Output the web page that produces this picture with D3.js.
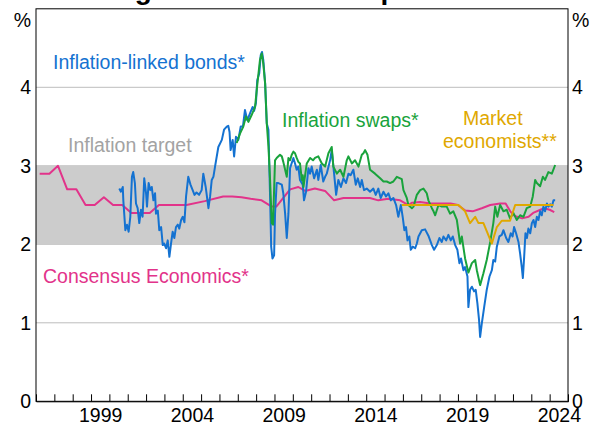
<!DOCTYPE html>
<html>
<head>
<meta charset="utf-8">
<script src="https://cdn.jsdelivr.net/npm/d3@7"></script>
<style>
  body { margin: 0; background: #fff; }
  svg { display: block; }
  text { font-family: "Liberation Sans", Arial, sans-serif; }
</style>
</head>
<body>
<svg id="chart" width="596" height="430"></svg>
<script>
// Long-term inflation expectations, per cent (decimal year, value)
const title = "Long-term Inflation Expectations";
const yearLabels = [1999, 2004, 2009, 2014, 2019, 2024];
const valueTicks = [0, 1, 2, 3, 4];
const targetBand = [2, 3];

const bonds = [
  [2000.54,2.71],[2000.63,2.67],[2000.73,2.73],[2000.76,2.56],[2000.87,2.18],[2000.96,2.25],
  [2001.05,2.16],[2001.14,2.35],[2001.23,2.86],[2001.30,2.92],[2001.39,2.78],[2001.45,2.52],
  [2001.54,2.46],[2001.63,2.27],[2001.72,2.44],[2001.81,2.35],[2001.90,2.84],[2002.00,2.65],
  [2002.05,2.48],[2002.14,2.78],[2002.23,2.69],[2002.31,2.73],[2002.40,2.56],[2002.49,2.65],
  [2002.54,2.39],[2002.64,2.43],[2002.72,2.18],[2002.82,2.22],[2002.91,1.99],[2002.99,2.01],
  [2003.09,1.95],[2003.18,2.05],[2003.27,1.84],[2003.36,2.01],[2003.45,2.16],[2003.54,2.08],
  [2003.63,2.22],[2003.73,2.25],[2003.81,2.20],[2003.91,2.31],[2004.00,2.35],[2004.09,2.28],
  [2004.18,2.61],[2004.30,2.86],[2004.42,2.76],[2004.54,2.69],[2004.64,2.63],[2004.75,2.66],
  [2004.89,2.63],[2005.03,2.69],[2005.12,2.90],[2005.25,2.73],[2005.40,2.46],[2005.49,2.61],
  [2005.58,2.82],[2005.67,2.86],[2005.76,2.99],[2005.94,3.24],[2006.13,3.33],[2006.25,3.46],
  [2006.40,3.50],[2006.48,3.51],[2006.55,3.43],[2006.61,3.20],[2006.72,3.33],[2006.80,3.12],
  [2006.90,3.37],[2007.03,3.33],[2007.16,3.50],[2007.28,3.50],[2007.39,3.71],[2007.52,3.58],
  [2007.67,3.67],[2007.81,3.75],[2007.89,3.70],[2007.99,3.80],[2008.06,4.09],[2008.17,4.18],
  [2008.25,4.41],[2008.32,4.45],[2008.39,4.35],[2008.49,4.05],[2008.58,3.54],[2008.67,3.46],
  [2008.76,2.61],[2008.82,1.97],[2008.89,1.82],[2008.98,1.86],[2009.03,2.39],[2009.12,2.78],
  [2009.21,2.78],[2009.40,2.76],[2009.48,2.65],[2009.58,2.39],[2009.67,2.08],[2009.76,2.39],
  [2009.85,2.97],[2010.03,3.10],[2010.12,3.03],[2010.21,2.95],[2010.30,2.99],[2010.39,2.82],
  [2010.54,2.76],[2010.61,2.56],[2010.72,2.67],[2010.85,2.97],[2010.94,2.90],[2011.03,2.99],
  [2011.16,2.84],[2011.31,2.95],[2011.39,2.82],[2011.52,3.01],[2011.66,2.80],[2011.76,2.86],
  [2011.85,2.90],[2012.03,3.07],[2012.12,3.20],[2012.25,2.90],[2012.36,2.63],[2012.48,2.82],
  [2012.62,2.73],[2012.76,2.84],[2012.90,2.78],[2013.03,2.90],[2013.15,2.88],[2013.30,2.95],
  [2013.43,2.76],[2013.54,2.84],[2013.67,2.73],[2013.76,2.82],[2013.88,2.69],[2014.03,2.71],
  [2014.21,2.67],[2014.39,2.71],[2014.52,2.63],[2014.66,2.71],[2014.79,2.59],[2014.94,2.67],
  [2015.08,2.61],[2015.21,2.65],[2015.34,2.56],[2015.48,2.59],[2015.63,2.50],[2015.75,2.35],
  [2015.89,2.50],[2016.00,2.33],[2016.08,2.18],[2016.17,2.22],[2016.25,2.05],[2016.35,2.10],
  [2016.43,1.93],[2016.54,1.97],[2016.67,1.95],[2016.76,2.01],[2016.85,2.10],[2017.03,2.18],
  [2017.21,2.19],[2017.39,2.11],[2017.58,1.99],[2017.70,1.93],[2017.85,1.99],[2017.99,2.08],
  [2018.12,2.03],[2018.21,2.10],[2018.36,2.05],[2018.48,2.12],[2018.61,2.05],[2018.72,2.10],
  [2018.85,1.99],[2018.97,1.93],[2019.08,1.76],[2019.17,1.82],[2019.30,1.67],[2019.39,1.71],
  [2019.52,1.59],[2019.57,1.20],[2019.66,1.42],[2019.76,1.46],[2019.88,1.40],[2019.97,1.42],
  [2020.06,1.25],[2020.15,1.04],[2020.21,0.82],[2020.30,0.99],[2020.43,1.20],[2020.57,1.42],
  [2020.72,1.59],[2020.85,1.67],[2020.93,1.80],[2021.03,1.78],[2021.12,1.97],[2021.26,2.10],
  [2021.39,2.12],[2021.48,2.18],[2021.63,2.08],[2021.75,2.03],[2021.88,2.14],[2021.98,2.10],
  [2022.06,2.22],[2022.17,2.14],[2022.30,2.03],[2022.39,1.88],[2022.48,1.71],[2022.54,1.57],
  [2022.61,1.84],[2022.68,2.14],[2022.76,2.08],[2022.84,2.20],[2022.94,2.14],[2023.03,2.27],
  [2023.12,2.31],[2023.21,2.22],[2023.30,2.35],[2023.39,2.31],[2023.48,2.42],[2023.57,2.37],
  [2023.66,2.48],[2023.75,2.42],[2023.85,2.52],[2023.93,2.48],[2024.03,2.51],[2024.12,2.48],
  [2024.21,2.56],[2024.30,2.56]
];

const swaps = [
  [2006.94,3.29],[2007.12,3.41],[2007.30,3.50],[2007.45,3.63],[2007.58,3.56],[2007.76,3.65],
  [2007.94,3.75],[2008.07,4.05],[2008.21,4.35],[2008.31,4.43],[2008.39,4.30],[2008.49,4.05],
  [2008.58,3.54],[2008.67,3.25],[2008.76,2.82],[2008.85,2.27],[2008.92,2.25],[2009.03,3.07],
  [2009.12,3.10],[2009.30,3.14],[2009.40,3.12],[2009.48,3.05],[2009.67,2.86],[2009.76,3.10],
  [2009.85,3.07],[2009.94,3.14],[2010.03,3.18],[2010.12,3.16],[2010.21,3.10],[2010.30,3.05],
  [2010.39,3.03],[2010.49,2.82],[2010.54,2.88],[2010.58,2.73],[2010.76,3.03],[2010.94,3.10],
  [2011.10,3.07],[2011.21,3.10],[2011.39,3.12],[2011.58,3.03],[2011.76,2.99],[2011.94,3.16],
  [2012.12,3.24],[2012.21,2.99],[2012.40,2.90],[2012.58,2.95],[2012.76,2.86],[2012.94,3.07],
  [2013.03,3.12],[2013.22,3.03],[2013.39,3.07],[2013.58,2.99],[2013.76,3.14],[2013.85,3.16],
  [2013.94,3.20],[2014.07,3.14],[2014.21,2.95],[2014.48,2.90],[2014.76,2.84],[2014.94,2.80],
  [2015.12,2.80],[2015.30,2.78],[2015.48,2.80],[2015.67,2.86],[2015.85,2.84],[2015.94,2.83],
  [2016.03,2.69],[2016.21,2.59],[2016.30,2.50],[2016.49,2.46],[2016.58,2.48],[2016.76,2.63],
  [2016.94,2.69],[2017.12,2.71],[2017.30,2.65],[2017.39,2.56],[2017.58,2.46],[2017.67,2.42],
  [2017.76,2.37],[2017.94,2.50],[2018.12,2.48],[2018.39,2.48],[2018.57,2.39],[2018.75,2.42],
  [2018.94,2.31],[2019.12,2.01],[2019.21,2.10],[2019.39,1.82],[2019.57,1.64],[2019.76,1.76],
  [2019.94,1.80],[2020.03,1.67],[2020.21,1.48],[2020.39,1.63],[2020.57,1.80],[2020.76,2.03],
  [2020.93,2.27],[2021.03,2.48],[2021.15,2.35],[2021.30,2.50],[2021.48,2.42],[2021.66,2.44],
  [2021.84,2.33],[2022.02,2.40],[2022.21,2.31],[2022.39,2.37],[2022.57,2.35],[2022.75,2.46],
  [2022.94,2.48],[2023.08,2.61],[2023.21,2.82],[2023.30,2.78],[2023.48,2.74],[2023.63,2.86],
  [2023.75,2.82],[2023.93,2.92],[2024.12,2.90],[2024.30,3.01]
];

const economists = [
  [2015.94,2.50],[2019.03,2.50],[2019.39,2.42],[2019.66,2.27],[2019.94,2.35],[2020.12,2.27],
  [2020.39,2.27],[2020.85,2.01],[2021.12,2.22],[2021.39,2.30],[2021.84,2.30],[2022.12,2.50],
  [2024.21,2.50]
];

const consensus = [
  [1996.20,2.90],[1996.73,2.90],[1997.20,3.00],[1997.70,2.70],[1998.20,2.70],[1998.70,2.50],
  [1999.20,2.50],[1999.70,2.60],[2000.20,2.50],[2000.70,2.50],[2001.20,2.40],[2002.20,2.40],
  [2002.70,2.50],[2004.20,2.50],[2005.20,2.55],[2006.20,2.61],[2006.70,2.61],[2007.20,2.60],
  [2007.70,2.58],[2008.30,2.56],[2008.85,2.48],[2009.10,2.48],[2009.85,2.70],[2010.30,2.73],
  [2010.67,2.68],[2011.20,2.71],[2011.76,2.68],[2012.25,2.56],[2012.76,2.59],[2014.20,2.59],
  [2014.66,2.56],[2015.20,2.58],[2015.85,2.56],[2016.30,2.50],[2016.50,2.53],[2016.94,2.54],
  [2017.50,2.52],[2018.00,2.52],[2018.60,2.52],[2019.00,2.50],[2019.40,2.43],[2019.80,2.42],
  [2020.30,2.46],[2020.76,2.50],[2021.30,2.52],[2021.60,2.52],[2021.85,2.42],[2022.10,2.36],
  [2022.50,2.33],[2022.85,2.35],[2023.10,2.40],[2023.50,2.44],[2023.70,2.46],[2024.00,2.44],
  [2024.25,2.41]
];

const colours = {
  bonds: "#1472d1",
  swaps: "#19a33c",
  economists: "#e0a800",
  consensus: "#e2338a",
  band: "#cccccc",
  grid: "#bdbdbd",
  target: "#a3a3a3"
};

const svg = d3.select("#chart");
const plotLeft = 36, plotRight = 568, plotTop = 8.8, plotBottom = 401.3;
const fontSize = 19.5;
const fontFamily = '"Liberation Sans", Arial, sans-serif';

const x = d3.scaleLinear().domain([1996, 2025]).range([plotLeft, plotRight]);
const y = d3.scaleLinear().domain([0, 5]).range([plotBottom, plotTop]);

// Title, mostly above the visible area
svg.append("text")
  .attr("x", (plotLeft + plotRight) / 2)
  .attr("y", -1)
  .attr("text-anchor", "middle")
  .attr("font-weight", "bold")
  .attr("font-size", 28)
  .attr("fill", "#000")
  .text(title);

// Horizontal gridlines
svg.append("g")
  .selectAll("line")
  .data(valueTicks.filter(v => v > 0))
  .join("line")
  .attr("x1", plotLeft).attr("x2", plotRight)
  .attr("y1", d => y(d)).attr("y2", d => y(d))
  .attr("stroke", colours.grid)
  .attr("stroke-width", 1);

// Inflation target band
svg.append("rect")
  .attr("x", plotLeft)
  .attr("width", plotRight - plotLeft)
  .attr("y", y(targetBand[1]))
  .attr("height", y(targetBand[0]) - y(targetBand[1]))
  .attr("fill", colours.band);

// Series lines
const line = d3.line().x(d => x(d[0])).y(d => y(d[1]));
const series = [
  [consensus, colours.consensus],
  [bonds, colours.bonds],
  [swaps, colours.swaps],
  [economists, colours.economists]
];
svg.append("g")
  .selectAll("path")
  .data(series)
  .join("path")
  .attr("d", d => line(d[0]))
  .attr("fill", "none")
  .attr("stroke", d => d[1])
  .attr("stroke-width", 2)
  .attr("stroke-linejoin", "round");

// Frame
svg.append("rect")
  .attr("x", plotLeft).attr("y", plotTop)
  .attr("width", plotRight - plotLeft).attr("height", plotBottom - plotTop)
  .attr("fill", "none")
  .attr("stroke", "#000")
  .attr("stroke-width", 1);

// X axis: year-boundary ticks pointing inward, labels centred on each year
const yearBoundaries = d3.range(1997, 2025);
svg.append("g")
  .attr("transform", `translate(0,${plotBottom})`)
  .call(d3.axisBottom(x).tickValues(yearBoundaries).tickSize(-7).tickFormat(""))
  .call(g => g.select(".domain").attr("stroke", "#000"))
  .call(g => g.selectAll(".tick line").attr("stroke", "#000"));

svg.append("g")
  .attr("transform", `translate(0,${plotBottom})`)
  .call(d3.axisBottom(x).tickValues(yearLabels.map(v => v + 0.5)).tickSize(0).tickPadding(7)
    .tickFormat(d => String(Math.floor(d))))
  .call(g => g.select(".domain").remove())
  .call(g => g.selectAll("text")
    .attr("font-size", fontSize)
    .attr("font-family", fontFamily)
    .attr("fill", "#000"));

// Y axes, both sides
const yLeft = svg.append("g")
  .attr("transform", `translate(${plotLeft},0)`)
  .call(d3.axisLeft(y).tickValues(valueTicks).tickSize(0).tickPadding(5).tickFormat(d3.format("d")));
const yRight = svg.append("g")
  .attr("transform", `translate(${plotRight},0)`)
  .call(d3.axisRight(y).tickValues(valueTicks).tickSize(0).tickPadding(4).tickFormat(d3.format("d")));
[yLeft, yRight].forEach(g => {
  g.select(".domain").remove();
  g.selectAll("text")
    .attr("font-size", fontSize)
    .attr("font-family", fontFamily)
    .attr("fill", "#000");
});

// Unit labels
svg.append("text").attr("x", plotLeft - 5).attr("y", 27).attr("text-anchor", "end")
  .attr("font-size", fontSize).text("%");
svg.append("text").attr("x", plotRight + 4).attr("y", 27).attr("text-anchor", "start")
  .attr("font-size", fontSize).text("%");

// Series labels
const labels = [
  { text: "Inflation-linked bonds*", x: 53, y: 69, fill: colours.bonds },
  { text: "Inflation target", x: 68, y: 152, fill: colours.target },
  { text: "Inflation swaps*", x: 282, y: 127, fill: colours.swaps },
  { text: "Market", x: 463, y: 125, fill: colours.economists },
  { text: "economists**", x: 443, y: 148, fill: colours.economists },
  { text: "Consensus Economics*", x: 43, y: 283, fill: colours.consensus }
];
svg.append("g")
  .selectAll("text")
  .data(labels)
  .join("text")
  .attr("x", d => d.x)
  .attr("y", d => d.y)
  .attr("font-size", fontSize)
  .attr("fill", d => d.fill)
  .text(d => d.text);
</script>
</body>
</html>
